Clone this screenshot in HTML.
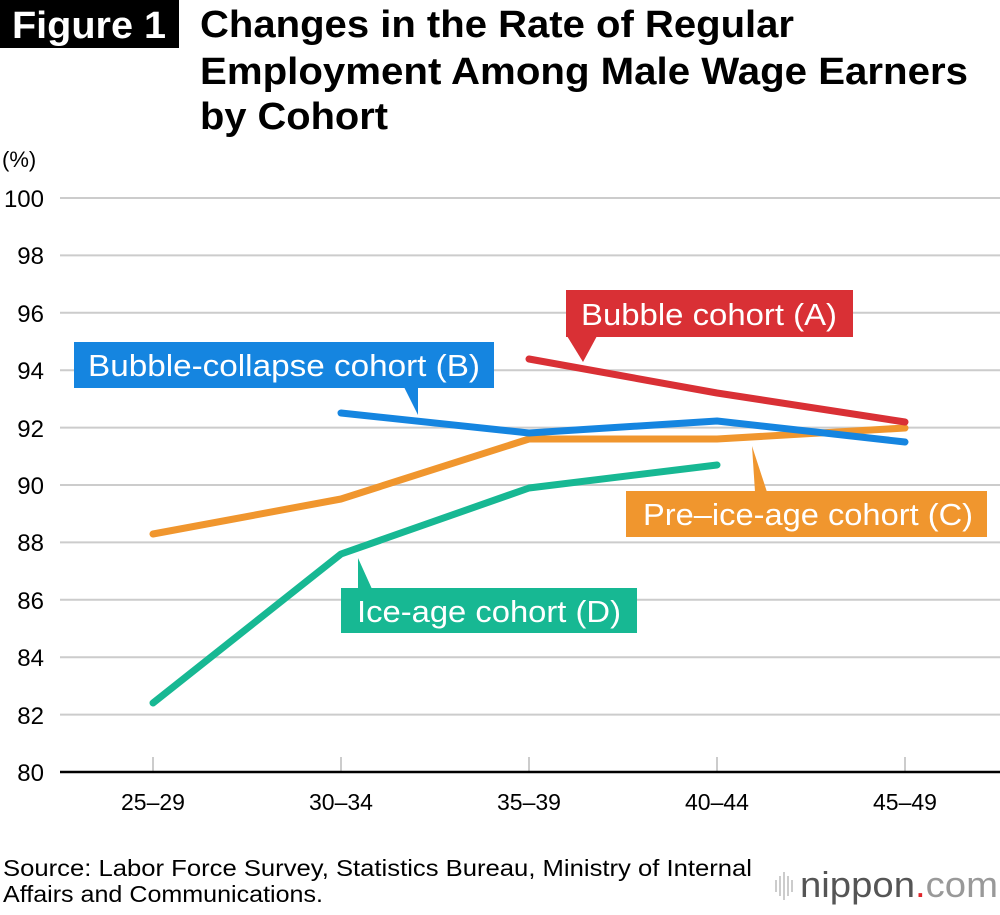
<!DOCTYPE html>
<html><head><meta charset="utf-8"><style>
body{margin:0;background:#fff;width:1000px;height:910px;overflow:hidden;font-family:"Liberation Sans",Arial,sans-serif}
</style></head><body>
<svg width="1000" height="910" xmlns="http://www.w3.org/2000/svg" font-family="Liberation Sans, Arial, sans-serif">
<rect x="0" y="0" width="179" height="48" fill="#000"/>
<text x="12" y="38" font-size="38" font-weight="bold" fill="#fff" textLength="154" lengthAdjust="spacingAndGlyphs">Figure 1</text>
<g font-size="38" font-weight="bold" fill="#000">
<text x="200" y="37" textLength="594" lengthAdjust="spacingAndGlyphs">Changes in the Rate of Regular</text>
<text x="200" y="84" textLength="768" lengthAdjust="spacingAndGlyphs">Employment Among Male Wage Earners</text>
<text x="200" y="129" textLength="188" lengthAdjust="spacingAndGlyphs">by Cohort</text>
</g>
<text x="2" y="167" font-size="22" fill="#000">(%)</text>
<g stroke="#ccc" stroke-width="2">
<line x1="60" x2="1000" y1="198" y2="198"/><line x1="60" x2="1000" y1="255.4" y2="255.4"/>
<line x1="60" x2="1000" y1="312.8" y2="312.8"/><line x1="60" x2="1000" y1="370.2" y2="370.2"/>
<line x1="60" x2="1000" y1="427.6" y2="427.6"/><line x1="60" x2="1000" y1="485" y2="485"/>
<line x1="60" x2="1000" y1="542.4" y2="542.4"/><line x1="60" x2="1000" y1="599.8" y2="599.8"/>
<line x1="60" x2="1000" y1="657.2" y2="657.2"/><line x1="60" x2="1000" y1="714.6" y2="714.6"/>
<line x1="153" x2="153" y1="757" y2="772"/><line x1="341" x2="341" y1="757" y2="772"/>
<line x1="529" x2="529" y1="757" y2="772"/><line x1="717" x2="717" y1="757" y2="772"/>
<line x1="905" x2="905" y1="757" y2="772"/>
</g>
<line x1="60" x2="1000" y1="772" y2="772" stroke="#000" stroke-width="2.5"/>
<g font-size="24" fill="#000" text-anchor="end">
<text x="44" y="207">100</text><text x="44" y="264">98</text><text x="44" y="322">96</text>
<text x="44" y="379">94</text><text x="44" y="437">92</text><text x="44" y="494">90</text>
<text x="44" y="551">88</text><text x="44" y="609">86</text><text x="44" y="666">84</text>
<text x="44" y="724">82</text><text x="44" y="781">80</text>
</g>
<g font-size="23" fill="#000" text-anchor="middle">
<text x="153" y="810">25–29</text><text x="341" y="810">30–34</text><text x="529" y="810">35–39</text>
<text x="717" y="810">40–44</text><text x="905" y="810">45–49</text>
</g>
<g fill="none" stroke-width="7" stroke-linecap="round" stroke-linejoin="round">
<polyline stroke="#f0962e" points="153,534 341,499 529,439 717,439 905,428"/>
<polyline stroke="#17b893" points="153,703 341,554 529,488 717,465"/>
<polyline stroke="#1585e0" points="341,413 529,433 717,421 905,442"/>
<polyline stroke="#d93035" points="529,359 717,393 905,422"/>
</g>
<g font-size="31" fill="#fff">
<rect x="566" y="290" width="287" height="47" fill="#d93035"/>
<polygon points="567,336 597,336 583,362" fill="#d93035"/>
<text x="581" y="325" textLength="256" lengthAdjust="spacingAndGlyphs">Bubble cohort (A)</text>
<rect x="74" y="342" width="420" height="46" fill="#1585e0"/>
<polygon points="404,387 418,387 418,415" fill="#1585e0"/>
<text x="88" y="376" textLength="392" lengthAdjust="spacingAndGlyphs">Bubble-collapse cohort (B)</text>
<rect x="626" y="491" width="361" height="46" fill="#f0962e"/>
<polygon points="752,446 755,492 767,492" fill="#f0962e"/>
<text x="643" y="525" textLength="330" lengthAdjust="spacingAndGlyphs">Pre–ice-age cohort (C)</text>
<rect x="341" y="588" width="296" height="45" fill="#17b893"/>
<polygon points="358,558 358,589 372,589" fill="#17b893"/>
<text x="357" y="622" textLength="264" lengthAdjust="spacingAndGlyphs">Ice-age cohort (D)</text>
</g>
<g font-size="23" fill="#000">
<text x="3" y="876" textLength="749" lengthAdjust="spacingAndGlyphs">Source: Labor Force Survey, Statistics Bureau, Ministry of Internal</text>
<text x="3" y="902" textLength="320" lengthAdjust="spacingAndGlyphs">Affairs and Communications.</text>
</g>
<g stroke="#bbb" stroke-width="1.5">
<line x1="776" x2="776" y1="880" y2="892"/><line x1="780" x2="780" y1="876" y2="896"/>
<line x1="784" x2="784" y1="872" y2="900"/><line x1="788" x2="788" y1="876" y2="896"/>
<line x1="792" x2="792" y1="880" y2="892"/>
</g>
<text x="800" y="897" font-size="36" fill="#555" textLength="198" lengthAdjust="spacingAndGlyphs">nippon<tspan fill="#e0262b">.</tspan><tspan fill="#999">com</tspan></text>
</svg>
</body></html>
